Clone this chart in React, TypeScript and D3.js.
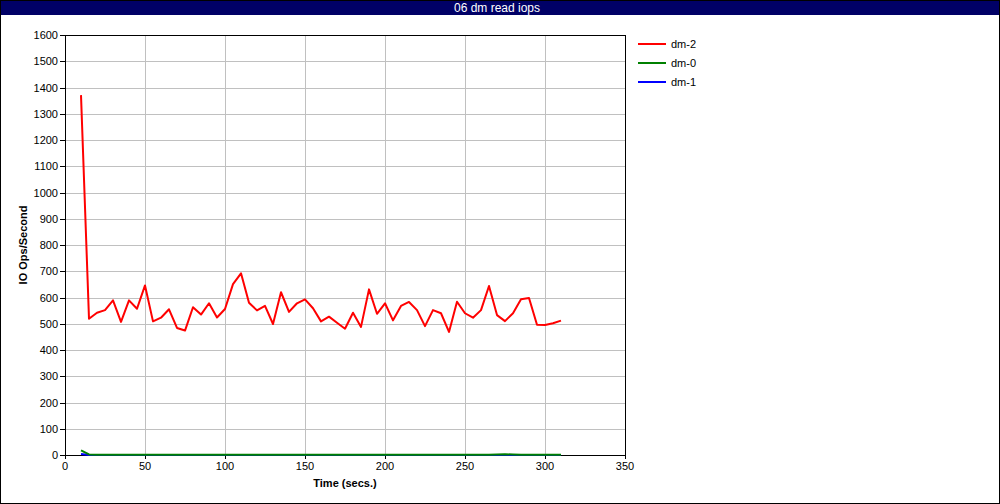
import React from "react";
import * as d3 from "d3";

const title = "06 dm read iops";
const xLabel = "Time (secs.)";
const yLabel = "IO Ops/Second";
const xTicks = [0, 50, 100, 150, 200, 250, 300, 350];
const yTicks = [0, 100, 200, 300, 400, 500, 600, 700, 800, 900, 1000, 1100, 1200, 1300, 1400, 1500, 1600];

const times = [10, 15, 20, 25, 30, 35, 40, 45, 50, 55, 60, 65, 70, 75, 80, 85, 90, 95, 100, 105, 110, 115, 120, 125, 130, 135, 140, 145, 150, 155, 160, 165, 170, 175, 180, 185, 190, 195, 200, 205, 210, 215, 220, 225, 230, 235, 240, 245, 250, 255, 260, 265, 270, 275, 280, 285, 290, 295, 300, 305, 310];
const dm2 = [1371, 519, 542, 552, 589, 507, 589, 557, 646, 509, 523, 555, 484, 474, 563, 535, 578, 524, 556, 651, 692, 580, 551, 568, 499, 620, 545, 578, 593, 559, 509, 527, 504, 481, 542, 488, 631, 538, 578, 513, 568, 583, 552, 491, 552, 540, 469, 584, 540, 523, 552, 644, 533, 510, 540, 593, 598, 496, 495, 502, 512];
const dm0 = [18, 2, 1, 1, 1, 1, 1, 1, 1, 1, 1, 1, 1, 1, 1, 1, 1, 1, 1, 1, 1, 1, 1, 1, 1, 1, 1, 1, 1, 1, 1, 1, 1, 1, 1, 1, 1, 1, 1, 1, 1, 1, 1, 1, 1, 1, 1, 1, 1, 1, 1, 1, 2, 3, 2, 1, 1, 1, 1, 1, 1];
const dm1 = [4, 0, 0, 0, 0, 0, 0, 0, 0, 0, 0, 0, 0, 0, 0, 0, 0, 0, 0, 0, 0, 0, 0, 0, 0, 0, 0, 0, 0, 0, 0, 0, 0, 0, 0, 0, 0, 0, 0, 0, 0, 0, 0, 0, 0, 0, 0, 0, 0, 0, 0, 0, 0, 0, 0, 0, 0, 0, 0, 0, 0];

const legendNames = ["dm-2", "dm-0", "dm-1"];
const legendColors = ["#ff0000", "#008000", "#0000ff"];

export default function App() {
  const W = 1000, H = 504;
  const L = 65, R = 625, T = 35, B = 455;
  const x = d3.scaleLinear().domain([0, 350]).range([L, R]);
  const y = d3.scaleLinear().domain([0, 1600]).range([B, T]);
  const line = d3.line<number>().x((_, i) => x(times[i])).y((d) => y(d));
  const font = "'Liberation Sans', Arial, sans-serif";
  const drawOrder = [
    { data: dm1, color: "#0000ff" },
    { data: dm0, color: "#008000" },
    { data: dm2, color: "#ff0000" },
  ];
  return (
    <svg width={W} height={H} style={{ position: "absolute", left: 0, top: 0, display: "block" }} fontFamily={font}>
      <rect x={0} y={0} width={W} height={H} fill="#fff" />
      <rect x={0.5} y={0.5} width={W - 1} height={H - 1} fill="none" stroke="#000" />
      <rect x={1} y={1} width={W - 2} height={14} fill="#000066" />
      <text x={W / 2 - 3} y={12} fill="#fff" fontSize={12} textAnchor="middle">{title}</text>
      {xTicks.map((t) => (
        <line key={"gx" + t} x1={Math.round(x(t)) + 0.5} x2={Math.round(x(t)) + 0.5} y1={T} y2={B} stroke="#c0c0c0" />
      ))}
      {yTicks.map((t) => (
        <line key={"gy" + t} x1={L} x2={R} y1={Math.round(y(t)) + 0.5} y2={Math.round(y(t)) + 0.5} stroke="#c0c0c0" />
      ))}
      <rect x={L + 0.5} y={T + 0.5} width={R - L} height={B - T} fill="none" stroke="#000" />
      {yTicks.map((t) => (
        <g key={"ty" + t}>
          <line x1={L - 5} x2={L} y1={Math.round(y(t)) + 0.5} y2={Math.round(y(t)) + 0.5} stroke="#000" />
          <text x={L - 7} y={y(t) + 4} fontSize={11} textAnchor="end" fill="#000">{t}</text>
        </g>
      ))}
      {xTicks.map((t) => (
        <g key={"tx" + t}>
          <line x1={Math.round(x(t)) + 0.5} x2={Math.round(x(t)) + 0.5} y1={B} y2={B + 4} stroke="#000" />
          <text x={x(t)} y={B + 15} fontSize={11} textAnchor="middle" fill="#000">{t}</text>
        </g>
      ))}
      <text x={(L + R) / 2} y={487} fontSize={11} fontWeight="bold" textAnchor="middle">{xLabel}</text>
      <text transform={`translate(27,${(T + B) / 2}) rotate(-90)`} fontSize={11} fontWeight="bold" textAnchor="middle">{yLabel}</text>
      {drawOrder.map((s, i) => (
        <path key={"s" + i} d={line(s.data) || ""} fill="none" stroke={s.color} strokeWidth={2} strokeLinejoin="round" />
      ))}
      {legendNames.map((n, i) => (
        <g key={"lg" + n}>
          <line x1={638} x2={666} y1={44 + i * 19} y2={44 + i * 19} stroke={legendColors[i]} strokeWidth={2} />
          <text x={671} y={48 + i * 19} fontSize={11} fill="#000">{n}</text>
        </g>
      ))}
    </svg>
  );
}
